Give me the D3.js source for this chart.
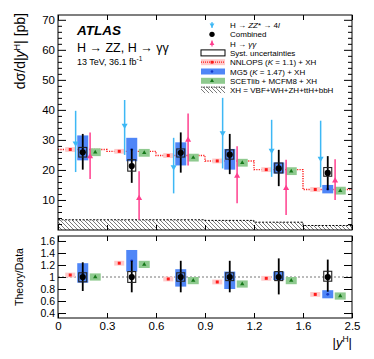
<!DOCTYPE html>
<html>
<head>
<meta charset="utf-8">
<script src="https://cdn.jsdelivr.net/npm/d3@7"></script>
<style>
  body { margin: 0; background: #fff; }
  svg { font-family: "Liberation Sans", Arial, sans-serif; }
</style>
</head>
<body>
<svg id="chart" width="374" height="359"></svg>
<script>
// bin edges of |y^H| (6 bins, drawn with equal width)
var edgeLabels = ["0", "0.3", "0.6", "0.9", "1.2", "1.6", "2.5"];

// combined measurement [pb]
var combined = [25.9, 21.3, 25.7, 25.1, 20.5, 19.0];
var combinedErr = [[20.1, 32.0], [15.7, 27.0], [19.1, 32.5], [18.6, 32.0], [14.6, 26.7], [13.3, 24.6]];
var combinedSyst = [[24.3, 27.5], [19.6, 23.4], [24.3, 27.0], [23.6, 26.7], [19.0, 22.3], [17.9, 20.8]];
// H -> ZZ* -> 4l
var zz = [28.9, 34.8, 21.0, 32.3, 26.5, 23.8];
var zzErr = [[19.3, 39.7], [25.0, 43.3], [12.2, 30.7], [20.5, 44.0], [17.7, 36.7], [14.2, 36.4]];
// H -> gamma gamma
var gg = [24.5, 10.6, 30.0, 18.0, 13.9, 16.4];
var ggErr = [[17.0, 32.5], [3.4, 19.6], [21.5, 38.8], [8.9, 27.9], [5.0, 23.4], [10.0, 23.6]];
// predictions
var nnlops = [26.8, 26.2, 24.8, 23.0, 20.1, 13.5];
var nnlopsUnc = [0.8, 0.8, 0.8, 0.8, 0.8, 0.8];
var mg5 = [27.35, 26.8, 25.35, 23.55, 20.65, 13.6];
var mg5Unc = [4.15, 3.9, 3.85, 3.45, 1.85, 1.4];
var scet = [25.9, 25.7, 24.1, 22.4, 19.6, 13.1];
var scetUnc = [1.3, 1.3, 1.3, 1.3, 1.3, 1.3];
var xh = [3.4, 3.4, 3.4, 3.2, 2.6, 1.5];

// ratio panel (theory / data)
var ratioNnlops = [1.033, 1.23, 0.967, 0.917, 0.978, 0.71];
var ratioNnlopsUnc = [0.04, 0.04, 0.04, 0.04, 0.04, 0.04];
var ratioMg5 = [[0.905, 1.23], [1.09, 1.45], [0.84, 1.13], [0.80, 1.09], [0.95, 1.09], [0.645, 0.78]];
var ratioScet = [1.0, 1.21, 0.94, 0.883, 0.94, 0.683];
var ratioScetUnc = [0.06, 0.06, 0.06, 0.06, 0.06, 0.06];
var ratioErr = [[0.767, 1.245], [0.745, 1.27], [0.745, 1.27], [0.745, 1.27], [0.71, 1.31], [0.755, 1.29]];
var ratioSyst = [[0.92, 1.07], [0.91, 1.09], [0.93, 1.07], [0.94, 1.07], [0.94, 1.09], [0.93, 1.095]];

var mainTicks = [10, 20, 30, 40, 50, 60, 70];
var ratioTicks = [0.4, 0.6, 0.8, 1, 1.2, 1.4, 1.6];

var C = {
  red: "#ff1a1a", pink: "#ffcaca", blue: "#4f86f7", blueDot: "#1238c8",
  green: "#8fca8f", greenDot: "#16781a", cyan: "#3db8f5", mag: "#ff3f8e"
};
// horizontal offsets inside a bin
var off = {nnlops: 0.25, zz: 0.36, comb: 0.505, gg: 0.655, scet: 0.76};

var svg = d3.select("#chart");
var L = 58, R = 352, T = 15, B = 230, RT = 236, RB = 318;

var x = d3.scaleLinear().domain([0, 6]).range([L, R]);
var y = d3.scaleLinear().domain([0, 71.6]).range([B, T]);
var yr = d3.scaleLinear().domain([0.317, 1.683]).range([RB, RT]);
var idx = d3.range(6);
function xc(i, o) { return x(i + o); }

var defs = svg.append("defs");
var pat = defs.append("pattern").attr("id", "hatch").attr("patternUnits", "userSpaceOnUse")
  .attr("width", 4).attr("height", 4);
pat.append("path").attr("d", "M0,0L4,4M-1,3L1,5M3,-1L5,1")
  .attr("stroke", "#444").attr("stroke-width", 0.7);

function clip(id, y0, y1) {
  defs.append("clipPath").attr("id", id).append("rect")
    .attr("x", L).attr("y", y0).attr("width", R - L).attr("height", y1 - y0);
}
clip("cm", T, B); clip("cr", RT, RB);

// ---------- main panel ----------
var gm = svg.append("g").attr("clip-path", "url(#cm)");

var stepPts = idx.map(function(i) { return [i, xh[i]]; }).concat([[6, xh[5]]]);
gm.append("path")
  .attr("d", d3.area().curve(d3.curveStepAfter).x(function(d) { return x(d[0]); })
    .y0(y(0)).y1(function(d) { return y(d[1]); })(stepPts))
  .attr("fill", "url(#hatch)");
gm.append("path")
  .attr("d", d3.line().curve(d3.curveStepAfter).x(function(d) { return x(d[0]); })
    .y(function(d) { return y(d[1]); })(stepPts))
  .attr("fill", "none").attr("stroke", "#000").attr("stroke-width", 1).attr("stroke-dasharray", "2,1.5");

var nnPts = idx.map(function(i) { return [i, nnlops[i]]; }).concat([[6, nnlops[5]]]);
gm.append("path")
  .attr("d", d3.line().curve(d3.curveStepAfter).x(function(d) { return x(d[0]); })
    .y(function(d) { return y(d[1]); })(nnPts))
  .attr("fill", "none").attr("stroke", C.red).attr("stroke-width", 1.4).attr("stroke-dasharray", "1.2,1.2");

function boxes(g, ys, o, w, lo, hi, fill) {
  g.selectAll(null).data(idx).enter().append("rect")
    .attr("x", function(i) { return xc(i, o) - w / 2; }).attr("width", w)
    .attr("y", function(i) { return ys(hi(i)); })
    .attr("height", function(i) { return ys(lo(i)) - ys(hi(i)); })
    .attr("fill", fill);
}
function bars(g, ys, o, err, color, width) {
  g.selectAll(null).data(idx).enter().append("line")
    .attr("x1", function(i) { return xc(i, o); }).attr("x2", function(i) { return xc(i, o); })
    .attr("y1", function(i) { return ys(err[i][0]); }).attr("y2", function(i) { return ys(err[i][1]); })
    .attr("stroke", color).attr("stroke-width", width);
}
function marks(g, ys, o, vals, type, size, color, rot) {
  g.selectAll(null).data(idx).enter().append("path")
    .attr("d", d3.symbol().type(type).size(size))
    .attr("transform", function(i) {
      return "translate(" + xc(i, o) + "," + ys(vals[i]) + ")" + (rot ? " rotate(180)" : "");
    })
    .attr("fill", color);
}

boxes(gm, y, off.nnlops, 10, function(i) { return nnlops[i] - nnlopsUnc[i]; },
  function(i) { return nnlops[i] + nnlopsUnc[i]; }, C.pink);
boxes(gm, y, off.scet, 11, function(i) { return scet[i] - scetUnc[i]; },
  function(i) { return scet[i] + scetUnc[i]; }, C.green);
boxes(gm, y, off.comb, 11, function(i) { return mg5[i] - mg5Unc[i]; },
  function(i) { return mg5[i] + mg5Unc[i]; }, C.blue);
marks(gm, y, off.nnlops, nnlops, d3.symbolSquare, 9, C.red);
marks(gm, y, off.scet, scet, d3.symbolTriangle, 8, C.greenDot);
marks(gm, y, off.comb, mg5, d3.symbolCircle, 6, C.blueDot);

bars(gm, y, off.zz, zzErr, C.cyan, 1.5);
marks(gm, y, off.zz, zz, d3.symbolTriangle, 16, C.cyan, true);
bars(gm, y, off.gg, ggErr, C.mag, 1.5);
marks(gm, y, off.gg, gg, d3.symbolTriangle, 16, C.mag);

bars(gm, y, off.comb, combinedErr, "#000", 1.8);
gm.selectAll(null).data(idx).enter().append("rect")
  .attr("x", function(i) { return xc(i, off.comb) - 4; }).attr("width", 8)
  .attr("y", function(i) { return y(combinedSyst[i][1]); })
  .attr("height", function(i) { return y(combinedSyst[i][0]) - y(combinedSyst[i][1]); })
  .attr("fill", "none").attr("stroke", "#222").attr("stroke-width", 1.1);
marks(gm, y, off.comb, combined, d3.symbolCircle, 30, "#000");

// ---------- ratio panel ----------
var gr = svg.append("g").attr("clip-path", "url(#cr)");
gr.append("line").attr("x1", L).attr("x2", R).attr("y1", yr(1)).attr("y2", yr(1))
  .attr("stroke", "#777").attr("stroke-width", 1).attr("stroke-dasharray", "2,2");
boxes(gr, yr, off.nnlops, 10, function(i) { return ratioNnlops[i] - ratioNnlopsUnc[i]; },
  function(i) { return ratioNnlops[i] + ratioNnlopsUnc[i]; }, C.pink);
boxes(gr, yr, off.scet, 11, function(i) { return ratioScet[i] - ratioScetUnc[i]; },
  function(i) { return ratioScet[i] + ratioScetUnc[i]; }, C.green);
boxes(gr, yr, off.comb, 11, function(i) { return ratioMg5[i][0]; },
  function(i) { return ratioMg5[i][1]; }, C.blue);
marks(gr, yr, off.nnlops, ratioNnlops, d3.symbolSquare, 9, C.red);
marks(gr, yr, off.scet, ratioScet, d3.symbolTriangle, 8, C.greenDot);
marks(gr, yr, off.comb, ratioMg5.map(function(d) { return (d[0] + d[1]) / 2; }), d3.symbolCircle, 6, C.blueDot);
bars(gr, yr, off.comb, ratioErr, "#000", 1.8);
gr.selectAll(null).data(idx).enter().append("rect")
  .attr("x", function(i) { return xc(i, off.comb) - 4; }).attr("width", 8)
  .attr("y", function(i) { return yr(ratioSyst[i][1]); })
  .attr("height", function(i) { return yr(ratioSyst[i][0]) - yr(ratioSyst[i][1]); })
  .attr("fill", "none").attr("stroke", "#222").attr("stroke-width", 1.1);
marks(gr, yr, off.comb, idx.map(function() { return 1; }), d3.symbolCircle, 30, "#000");

// ---------- axes ----------
function styleAxis(g, fs) {
  g.select(".domain").remove();
  g.selectAll("line").attr("stroke", "#000");
  g.selectAll("text").attr("font-size", fs).attr("fill", "#000")
    .attr("font-family", "Liberation Sans, Arial, sans-serif");
  return g;
}
var xTickVals = d3.range(7);
var noLab = function() { return ""; };
var minorVals = d3.range(2, 71, 2).filter(function(v) { return v % 10 !== 0; });
// main
styleAxis(svg.append("g").attr("transform", "translate(" + L + ",0)")
  .call(d3.axisLeft(y).tickValues(minorVals).tickSize(-4).tickFormat(noLab)), 11);
styleAxis(svg.append("g").attr("transform", "translate(" + R + ",0)")
  .call(d3.axisRight(y).tickValues(minorVals).tickSize(-4).tickFormat(noLab)), 11);
styleAxis(svg.append("g").attr("transform", "translate(" + R + ",0)")
  .call(d3.axisRight(y).tickValues(mainTicks).tickSize(-8).tickFormat(noLab)), 11);
styleAxis(svg.append("g").attr("transform", "translate(0," + T + ")")
  .call(d3.axisBottom(x).tickValues(xTickVals).tickSize(5).tickFormat(noLab)), 11);
styleAxis(svg.append("g").attr("transform", "translate(0," + B + ")")
  .call(d3.axisTop(x).tickValues(xTickVals).tickSize(5).tickFormat(noLab)), 11);
// ratio
styleAxis(svg.append("g").attr("transform", "translate(" + L + ",0)")
  .call(d3.axisLeft(yr).tickValues(ratioTicks).tickSize(-8).tickPadding(3)
    .tickFormat(function(d) { return d === 1 ? "1" : d3.format(".1f")(d); })), 10.5);
styleAxis(svg.append("g").attr("transform", "translate(" + R + ",0)")
  .call(d3.axisRight(yr).tickValues(ratioTicks).tickSize(-8).tickFormat(noLab)), 10);
styleAxis(svg.append("g").attr("transform", "translate(0," + RT + ")")
  .call(d3.axisBottom(x).tickValues(xTickVals).tickSize(5).tickFormat(noLab)), 10);
styleAxis(svg.append("g").attr("transform", "translate(0," + RB + ")")
  .call(d3.axisBottom(x).tickValues(xTickVals).tickSize(-5).tickPadding(4)
    .tickFormat(function(i) { return edgeLabels[i]; })), 11.5);

svg.append("rect").attr("x", L).attr("y", T).attr("width", R - L).attr("height", B - T)
  .attr("fill", "none").attr("stroke", "#000").attr("stroke-width", 1);
svg.append("rect").attr("x", L).attr("y", RT).attr("width", R - L).attr("height", RB - RT)
  .attr("fill", "none").attr("stroke", "#000").attr("stroke-width", 1);

// ---------- titles ----------
var yt = svg.append("text").attr("transform", "translate(25,13) rotate(-90)")
  .attr("text-anchor", "end").attr("font-size", 14);
yt.append("tspan").text("dσ/d|");
yt.append("tspan").attr("font-style", "italic").text("y");
yt.append("tspan").attr("font-size", 9).attr("dy", -5.5).text("H");
yt.append("tspan").attr("dy", 5.5).text("| [pb]");

svg.append("text").attr("transform", "translate(23,277) rotate(-90)")
  .attr("text-anchor", "middle").attr("font-size", 10.5).text("Theory/Data");

var xt = svg.append("text").attr("x", R).attr("y", 347).attr("text-anchor", "end").attr("font-size", 13);
xt.append("tspan").text("|");
xt.append("tspan").attr("font-style", "italic").text("y");
xt.append("tspan").attr("font-size", 8.5).attr("dy", -5).text("H");
xt.append("tspan").attr("dy", 5).text("|");

svg.append("text").attr("x", 77).attr("y", 35).attr("font-size", 13.5)
  .attr("font-weight", "bold").attr("font-style", "italic").text("ATLAS");
svg.append("text").attr("x", 77).attr("y", 52).attr("font-size", 12.5).text("H → ZZ, H → γγ");
var lumi = svg.append("text").attr("x", 77).attr("y", 64.5).attr("font-size", 9);
lumi.append("tspan").text("13 TeV, 36.1 fb");
lumi.append("tspan").attr("font-size", 6.5).attr("dy", -3.5).text("-1");

// ---------- legend ----------
var lx = 212, tx = 230, ly0 = 25, rowH = 9.3;
var leg = svg.append("g").attr("font-size", 8);
function legText(r, parts) {
  var t = leg.append("text").attr("x", tx).attr("y", ly0 + r * rowH + 3);
  parts.forEach(function(p) {
    var s = t.append("tspan").text(p[0]);
    if (p[1]) s.attr("font-style", "italic");
  });
}
function legBox(r, fill, stroke) {
  leg.append("rect").attr("x", 201).attr("y", ly0 + r * rowH - 3).attr("width", 24).attr("height", 6)
    .attr("fill", fill).attr("stroke", stroke || "none").attr("stroke-width", 1);
}
function legMark(r, type, size, color, rot) {
  leg.append("path").attr("d", d3.symbol().type(type).size(size)())
    .attr("transform", "translate(" + lx + "," + (ly0 + r * rowH) + ")" + (rot ? " rotate(180)" : ""))
    .attr("fill", color);
}
leg.append("line").attr("x1", lx).attr("x2", lx).attr("y1", ly0 - 3).attr("y2", ly0 + 3)
  .attr("stroke", C.cyan).attr("stroke-width", 1.2);
legMark(0, d3.symbolTriangle, 10, C.cyan, true);
legText(0, [["H → "], ["ZZ", true], ["* → 4"], ["l", true]]);
legMark(1, d3.symbolCircle, 22, "#000");
legText(1, [["Combined"]]);
leg.append("line").attr("x1", lx).attr("x2", lx).attr("y1", ly0 + 2 * rowH - 3).attr("y2", ly0 + 2 * rowH + 3)
  .attr("stroke", C.mag).attr("stroke-width", 1.2);
legMark(2, d3.symbolTriangle, 10, C.mag);
legText(2, [["H → "], ["γγ", true]]);
legBox(3, "#fff", "#000");
legText(3, [["Syst. uncertainties"]]);
legBox(4, C.pink);
leg.append("line").attr("x1", 201).attr("x2", 225).attr("y1", ly0 + 4 * rowH).attr("y2", ly0 + 4 * rowH)
  .attr("stroke", C.red).attr("stroke-width", 1.2).attr("stroke-dasharray", "1,1");
legMark(4, d3.symbolSquare, 8, C.red);
legText(4, [["NNLOPS ("], ["K", true], [" = 1.1) + XH"]]);
legBox(5, C.blue);
legMark(5, d3.symbolCircle, 5, C.blueDot);
legText(5, [["MG5 ("], ["K", true], [" = 1.47) + XH"]]);
legBox(6, C.green);
legMark(6, d3.symbolTriangle, 7, C.greenDot);
legText(6, [["SCETlib + MCFM8 + XH"]]);
legBox(7, "url(#hatch)");
leg.append("line").attr("x1", 201).attr("x2", 225).attr("y1", ly0 + 7 * rowH - 3).attr("y2", ly0 + 7 * rowH - 3)
  .attr("stroke", "#000").attr("stroke-width", 0.8).attr("stroke-dasharray", "1.5,1");
legText(7, [["XH = VBF+WH+ZH+"], ["tt"], ["H+bbH"]]);

// labelled main y axis, drawn last so nothing sits on top of it
styleAxis(svg.append("g").attr("class", "ymain").attr("transform", "translate(" + L + ",0)")
  .call(d3.axisLeft(y).tickValues(mainTicks).tickSize(-8).tickPadding(3).tickFormat(d3.format("d"))), 11.5);
</script>
</body>
</html>
